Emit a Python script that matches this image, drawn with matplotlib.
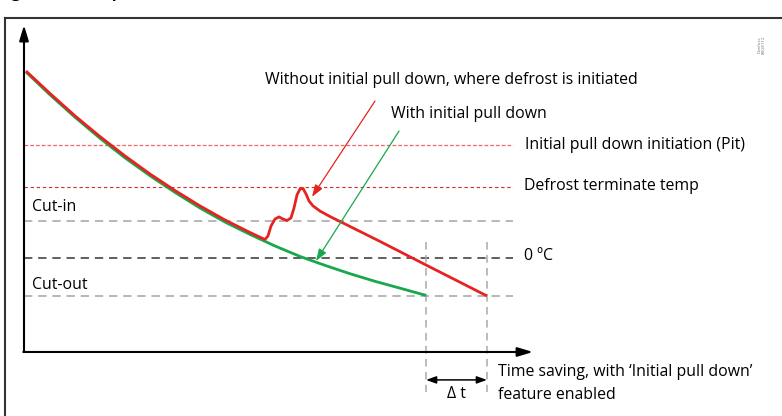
import matplotlib.pyplot as plt
from matplotlib.lines import Line2D

plt.rcParams['font.family'] = ['Open Sans', 'DejaVu Sans']

# reference temperatures (deg C, schematic)
pit_temp = 5.95
defrost_term = 3.75
cut_in = 1.95
zero_c = 0.0
cut_out = -2.0

# with initial pull down
green_t = [0.2, 2.6, 5.1, 7.6, 10.1, 12.6, 15.1, 17.6, 20.1, 22.6, 25.1,
           27.6, 30.1, 32.6, 35.1, 37.6, 40.2]
green_temp = [9.79, 8.59, 7.41, 6.30, 5.27, 4.33, 3.45, 2.63, 1.89, 1.24,
              0.63, 0.08, -0.39, -0.83, -1.23, -1.59, -1.97]

# without initial pull down (defrost initiated)
red_t = [0.2, 2.6, 5.1, 7.6, 10.1, 12.6, 15.1, 17.6, 20.1, 22.6, 24.1,
         24.4, 24.7, 25.1, 25.5, 25.9, 26.3, 26.7, 27.0, 27.3, 27.6, 27.9,
         28.2, 28.5, 28.9, 29.6, 30.6, 31.6, 35.6, 40.2, 46.3]
red_temp = [9.84, 8.66, 7.48, 6.39, 5.37, 4.42, 3.55, 2.74, 2.0, 1.34, 0.97,
            1.16, 1.68, 2.05, 2.16, 2.05, 1.97, 2.11, 2.63, 3.32, 3.63, 3.66,
            3.37, 3.0, 2.74, 2.47, 2.18, 1.92, 0.87, -0.37, -2.0]

RED = '#e52421'
GREEN = '#17a84b'

fig = plt.figure(figsize=(7.82, 4.16), dpi=100)
ax = fig.add_axes([0, 0, 1, 1])
ax.set_xlim(-2.4, 75.8)
ax.set_ylim(-8.32, 13.58)
ax.axis('off')

# outer frame and clipped title
fig.add_artist(Line2D([5 / 782, 5 / 782], [0, 1 - 18 / 416], color='#333333', lw=1.5))
fig.add_artist(Line2D([5 / 782, 1], [1 - 18 / 416, 1 - 18 / 416], color='#333333', lw=1.5))
fig.text(-3 / 782, 1 + 3 / 416, 'Fig. 10: Initial pull down', fontsize=12,
         fontweight='bold', va='baseline', ha='left')
fig.text(762 / 782, 1 - 45 / 416, 'Danfoss\n80G8112', fontsize=3.2, color='#777777',
         rotation=90, ha='center', va='center', linespacing=1.0)

t_end = 48.9
ax.plot([0, t_end], [pit_temp, pit_temp], color='#f0646c', lw=0.9, dashes=(3, 1.6))
ax.plot([0, t_end], [defrost_term, defrost_term], color='#d42a2a', lw=0.8, dashes=(3, 2.5))
ax.plot([0, t_end], [cut_in, cut_in], color='#aaaaaa', lw=1.2, dashes=(5, 3.5))
ax.plot([0, t_end], [zero_c, zero_c], color='#444444', lw=1.2, dashes=(5, 3.5))
ax.plot([0, t_end], [cut_out, cut_out], color='#aaaaaa', lw=1.2, dashes=(5, 3.5))

# time saving markers
for tx in (green_t[-1], red_t[-1]):
    ax.plot([tx, tx], [0.84, -7.05], color='#aaaaaa', lw=1.1, dashes=(5, 3.5))

ax.plot(green_t, green_temp, color=GREEN, lw=2, solid_capstyle='butt')
ax.plot(red_t, red_temp, color=RED, lw=2, solid_capstyle='butt', solid_joinstyle='round')

# axes with arrows
axis_style = '-|>,head_length=0.4,head_width=0.12'
ax.annotate('', xy=(0, 12.26), xytext=(0, -4.95),
            arrowprops=dict(arrowstyle=axis_style, lw=1.5, color='black',
                            mutation_scale=23, shrinkA=0, shrinkB=0))
ax.annotate('', xy=(50.9, -4.95), xytext=(-0.07, -4.95),
            arrowprops=dict(arrowstyle=axis_style, lw=1.5, color='black',
                            mutation_scale=23, shrinkA=0, shrinkB=0))

# pointer arrows
ax.annotate('', xy=(28.8, 3.22), xytext=(35.1, 8.26),
            arrowprops=dict(arrowstyle='-|>,head_length=0.4,head_width=0.14', lw=0.9,
                            color=RED, mutation_scale=18, shrinkA=0, shrinkB=0))
ax.annotate('', xy=(29.2, -0.16), xytext=(37.5, 6.68),
            arrowprops=dict(arrowstyle='-|>,head_length=0.4,head_width=0.14', lw=0.9,
                            color=GREEN, mutation_scale=18, shrinkA=0, shrinkB=0))

# delta t
ax.annotate('', xy=(red_t[-1], -6.42), xytext=(green_t[-1], -6.42),
            arrowprops=dict(arrowstyle='<|-|>,head_length=0.5,head_width=0.18', lw=1.1,
                            color='black', mutation_scale=12, shrinkA=0, shrinkB=0))

fs = 11.4
ax.text(43.25, -7.15, '\u0394 t', fontsize=fs, ha='center', va='center')
ax.text(24.1, 9.37, 'Without initial pull down, where defrost is initiated', fontsize=fs, va='center')
ax.text(36.7, 7.58, 'With initial pull down', fontsize=fs, va='center')
ax.text(50.1, 5.95, 'Initial pull down initiation (Pit)', fontsize=fs, va='center')
ax.text(50.0, 3.79, 'Defrost terminate temp', fontsize=fs, va='center')
ax.text(50.0, 0.1, '0 \u00baC', fontsize=fs, va='center')
ax.text(0.8, 2.68, 'Cut-in', fontsize=fs, va='center')
ax.text(0.8, -1.42, 'Cut-out', fontsize=fs, va='center')
ax.text(47.4, -6.0, 'Time saving, with \u2018Initial pull down\u2019', fontsize=fs, va='center')
ax.text(47.4, -7.2, 'feature enabled', fontsize=fs, va='center')

fig.savefig('out.png', dpi=100)
